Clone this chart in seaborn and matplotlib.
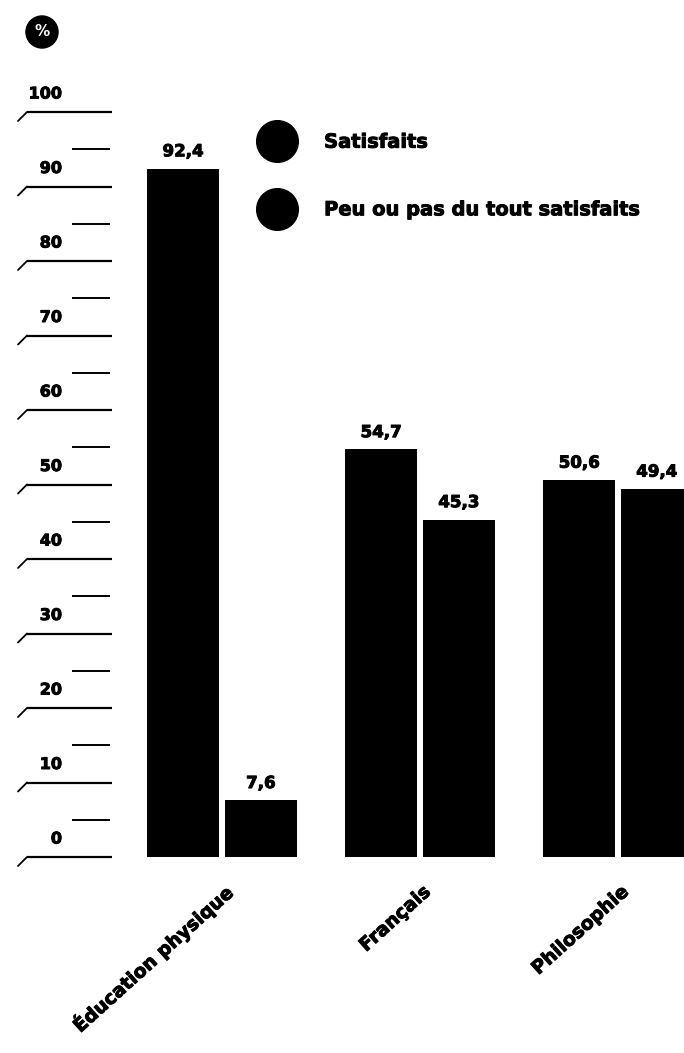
import matplotlib
matplotlib.use("Agg")
import matplotlib.pyplot as plt
from matplotlib.lines import Line2D
import matplotlib.transforms as mtransforms
import matplotlib.patheffects as pe
import seaborn as sns
import pandas as pd

# Survey data: share of pupils satisfied with each subject (%)
matieres = ["Éducation physique", "Français", "Philosophie"]
statuts = ["Satisfaits", "Peu ou pas du tout satisfaits"]
satisfaits = [92.4, 54.7, 50.6]
peu_satisfaits = [7.6, 45.3, 49.4]
graduations = [0, 10, 20, 30, 40, 50, 60, 70, 80, 90, 100]
demi_graduations = [5, 15, 25, 35, 45, 55, 65, 75, 85, 95]

df = pd.DataFrame({
    "matiere": matieres * 2,
    "statut": [statuts[0]] * 3 + [statuts[1]] * 3,
    "pct": satisfaits + peu_satisfaits,
})

sns.set_theme(style="white")
plt.rcParams["font.family"] = ["DejaVu Sans"]
plt.rcParams["text.color"] = "black"

# Slightly thickened strokes for a heavy, poster-like type
heavy = [pe.withStroke(linewidth=0.7, foreground="black")]

W, H = 684, 1053
fig = plt.figure(figsize=(W / 100, H / 100), dpi=100)
base_px = 857          # pixel row of the zero line
scale = 7.45           # pixels per percentage point
ax = fig.add_axes([0, (H - base_px) / H, 1, base_px / H])

sns.barplot(data=df, x="matiere", y="pct", hue="statut", order=matieres,
            hue_order=statuts, palette=["black", "black"], width=0.785,
            gap=0.07, saturation=1, edgecolor="none", ax=ax, legend=False)

group_px = 198
first_px = 222
ax.set_xlim(-first_px / group_px, (W - first_px) / group_px)
ax.set_ylim(0, base_px / scale)
ax.axis("off")

# Value labels above every bar, French decimal comma
for cont in ax.containers:
    labs = ax.bar_label(cont, labels=[f"{b.get_height():.1f}".replace(".", ",") for b in cont],
                        padding=6, fontsize=12, fontweight="bold", color="black")
    for t in labs:
        t.set_path_effects(heavy)

# Hand-drawn style scale on the left: long rule with a hook every 10, short rule every 5
px = mtransforms.blended_transform_factory(
    mtransforms.Affine2D().scale(1 / W, 1) + fig.transFigure, ax.transData)
for g in graduations:
    ax.plot([27, 112], [g, g], color="black", lw=1.6, transform=px, clip_on=False,
            solid_capstyle="butt")
    ax.plot([18, 27], [g - 9 / scale, g], color="black", lw=1.3, transform=px,
            clip_on=False)
    ax.text(62, g + 18 / scale, str(g), transform=px, ha="right", va="center",
            fontsize=11.5, fontweight="bold", color="black", clip_on=False,
            path_effects=heavy)
for g in demi_graduations:
    ax.plot([72, 110], [g, g], color="black", lw=1.4, transform=px, clip_on=False,
            solid_capstyle="butt")

# Category labels, slanted under each pair of bars
for i, m in enumerate(matieres):
    ax.text(i + 8 / group_px, -32 / scale, m, rotation=42, rotation_mode="anchor",
            ha="right", va="center", fontsize=13.5, fontweight="bold",
            color="black", clip_on=False, path_effects=heavy)

# Legend with round markers
handles = [Line2D([], [], marker="o", linestyle="none", markersize=30,
                  markerfacecolor="black", markeredgecolor="black") for _ in statuts]
leg = fig.legend(handles, statuts, loc="center left",
                 bbox_to_anchor=(258 / W, 1 - 176 / H), frameon=False,
                 prop={"size": 14, "weight": "bold"}, handlelength=2.0,
                 handletextpad=1.4, labelspacing=2.5, borderpad=0, borderaxespad=0,
                 labelcolor="black")
for t in leg.get_texts():
    t.set_path_effects(heavy)

# Unit badge
fig.text(42 / W, 1 - 32 / H, "%", ha="center", va="center", fontsize=11,
         fontweight="bold", color="white",
         bbox=dict(boxstyle="circle,pad=0.55", fc="black", ec="black"))

fig.savefig("out.png", dpi=100, facecolor="white")
